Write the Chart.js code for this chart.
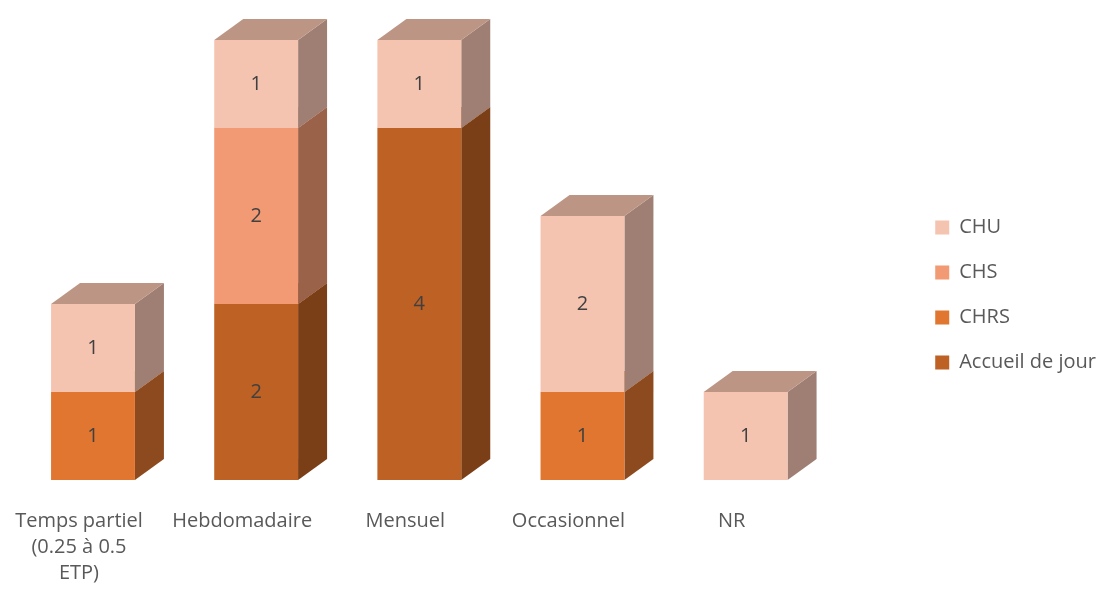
<!DOCTYPE html>
<html>
<head>
<meta charset="utf-8">
<script src="https://cdn.jsdelivr.net/npm/chart.js@4"></script>
<style>
  html, body { margin: 0; padding: 0; background: #ffffff; }
  #cadre { width: 1100px; height: 590px; }
</style>
</head>
<body>
<div id="cadre"><canvas id="graphique"></canvas></div>
<script>
const categories = [["Temps partiel", "(0.25 à 0.5", "ETP)"], "Hebdomadaire", "Mensuel", "Occasionnel", "NR"];
const accueilDeJour = [0, 2, 4, 0, 0];
const chrs = [1, 0, 0, 1, 0];
const chs = [0, 2, 0, 0, 0];
const chu = [1, 1, 1, 2, 1];

const couleursFace = ["#BD6124", "#E0762F", "#F19A74", "#F5C4B0"];
const couleursCote = ["#7B3F17", "#8D4A1E", "#9B624A", "#9F7F73"];
const couleursDessus = ["#A5582A", "#B8672E", "#C08068", "#BD9585"];

const police = "'Open Sans', 'DejaVu Sans', sans-serif";
const dx = 29, dy = 21;

// faces laterales et dessus, dessinees avant les faces avant
const effet3D = {
  id: "effet3D",
  beforeDatasetsDraw(chart) {
    const ctx = chart.ctx;
    chart.data.datasets.forEach((ds, i) => {
      const meta = chart.getDatasetMeta(i);
      meta.data.forEach((barre, j) => {
        if (!ds.data[j]) return;
        const { x, y, base, width } = barre.getProps(["x", "y", "base", "width"], true);
        const g = x - width / 2, d = x + width / 2;
        ctx.save();
        ctx.fillStyle = couleursCote[i];
        ctx.beginPath();
        ctx.moveTo(d, y);
        ctx.lineTo(d + dx, y - dy);
        ctx.lineTo(d + dx, base - dy);
        ctx.lineTo(d, base);
        ctx.closePath();
        ctx.fill();
        ctx.fillStyle = couleursDessus[i];
        ctx.beginPath();
        ctx.moveTo(g, y);
        ctx.lineTo(g + dx, y - dy);
        ctx.lineTo(d + dx, y - dy);
        ctx.lineTo(d, y);
        ctx.closePath();
        ctx.fill();
        ctx.restore();
      });
    });
  },
  afterDatasetsDraw(chart) {
    const ctx = chart.ctx;
    ctx.save();
    ctx.fillStyle = "#404040";
    ctx.font = "20px " + police;
    ctx.textAlign = "center";
    ctx.textBaseline = "middle";
    chart.data.datasets.forEach((ds, i) => {
      const meta = chart.getDatasetMeta(i);
      meta.data.forEach((barre, j) => {
        if (!ds.data[j]) return;
        const { x, y, base } = barre.getProps(["x", "y", "base"], true);
        ctx.fillText(String(ds.data[j]), x, (y + base) / 2);
      });
    });
    ctx.restore();
  }
};

const ctx = document.getElementById("graphique").getContext("2d");
new Chart(ctx, {
  type: "bar",
  data: {
    labels: categories,
    datasets: [
      { label: "Accueil de jour", data: accueilDeJour, backgroundColor: couleursFace[0] },
      { label: "CHRS", data: chrs, backgroundColor: couleursFace[1] },
      { label: "CHS", data: chs, backgroundColor: couleursFace[2] },
      { label: "CHU", data: chu, backgroundColor: couleursFace[3] }
    ]
  },
  options: {
    responsive: true,
    maintainAspectRatio: false,
    animation: false,
    categoryPercentage: 1,
    barPercentage: 0.514,
    layout: {
      padding: { left: 8, top: 0, right: -6, bottom: 0 }
    },
    plugins: {
      tooltip: { enabled: false },
      // titre vide : reserve l'espace du haut sans deplacer la legende
      title: {
        display: true,
        text: "",
        fullSize: false,
        font: { size: 10, lineHeight: 1 },
        padding: { top: 15, bottom: 15 }
      },
      legend: {
        position: "right",
        reverse: true,
        labels: {
          color: "#595959",
          boxWidth: 14,
          boxHeight: 14,
          padding: 25,
          font: { size: 20, family: police }
        }
      }
    },
    scales: {
      x: {
        stacked: true,
        grid: { display: false, drawTicks: false },
        border: { display: false },
        ticks: {
          color: "#595959",
          padding: 28,
          labelOffset: -14,
          maxRotation: 0,
          autoSkip: false,
          font: { size: 20, family: police, lineHeight: 1.3 }
        },
        afterFit(s) { s.height = 110; }
      },
      y: {
        stacked: true,
        position: "right",
        min: 0,
        max: 5,
        grid: { display: false, drawTicks: false },
        border: { display: false },
        ticks: { display: false },
        afterFit(s) { s.width = 83; }
      }
    }
  },
  plugins: [effet3D]
});
</script>
</body>
</html>
